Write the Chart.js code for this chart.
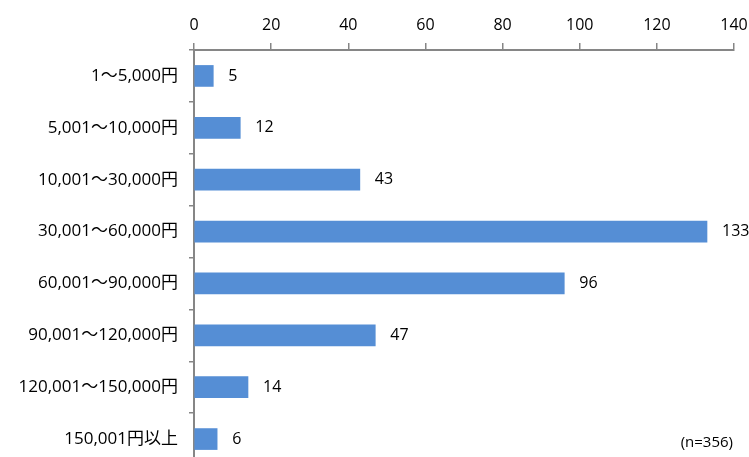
<!DOCTYPE html>
<html>
<head>
<meta charset="utf-8">
<script src="https://cdn.jsdelivr.net/npm/chart.js@4.4.1/dist/chart.umd.min.js"></script>
<style>
  html, body { margin: 0; padding: 0; background: #fff; overflow: hidden; }
  canvas { display: block; }
</style>
</head>
<body>
<canvas id="c" width="749" height="466"></canvas>
<script>
// price ranges and respondent counts
const categories = ['1～5,000円', '5,001～10,000円', '10,001～30,000円', '30,001～60,000円',
  '60,001～90,000円', '90,001～120,000円', '120,001～150,000円', '150,001円以上'];
const counts = [5, 12, 43, 133, 96, 47, 14, 6];
const xTicks = [0, 20, 40, 60, 80, 100, 120, 140];
const note = '(n=356)';

const FONT = '"Open Sans", "Noto Sans CJK JP", sans-serif';

// value labels at the end of each bar + the n= note
const labelPlugin = {
  id: 'labels',
  afterDatasetsDraw(chart) {
    const ctx = chart.ctx;
    ctx.save();
    ctx.font = '16px ' + FONT;
    ctx.fillStyle = '#000';
    ctx.textBaseline = 'middle';
    ctx.textAlign = 'left';
    chart.getDatasetMeta(0).data.forEach((bar, i) => {
      ctx.fillText(counts[i], bar.x + 15, bar.y);
    });
    ctx.font = '15px ' + FONT;
    ctx.textAlign = 'right';
    ctx.fillText(note, 733, 443);
    ctx.restore();
  }
};

new Chart(document.getElementById('c'), {
  type: 'bar',
  data: {
    labels: categories,
    datasets: [{
      data: counts,
      backgroundColor: '#558ed5',
      borderWidth: 0,
      barThickness: 21
    }]
  },
  options: {
    indexAxis: 'y',
    responsive: false,
    animation: false,
    layout: { padding: { left: 0, right: 15, top: 0, bottom: 1 } },
    plugins: { legend: { display: false }, tooltip: { enabled: false } },
    scales: {
      x: {
        position: 'top',
        min: 0, max: 140,
        afterBuildTicks: s => { s.ticks = xTicks.map(v => ({ value: v })); },
        afterFit: s => { s.height = 50; s.paddingLeft = 0; s.paddingRight = 0; },
        grid: { drawOnChartArea: false, tickLength: 7, color: '#868686', lineWidth: 1.5 },
        border: { color: '#868686', width: 2 },
        ticks: { color: '#000', font: { family: FONT, size: 16 }, padding: 8, maxRotation: 0 }
      },
      y: {
        afterFit: s => { s.width = 194; s.paddingTop = 0; s.paddingBottom = 0; },
        grid: { drawOnChartArea: false, tickLength: 5, color: '#868686', lineWidth: 1.5, offset: true },
        border: { color: '#868686', width: 2 },
        ticks: { color: '#000', font: { family: FONT, size: 17 }, padding: 11 }
      }
    }
  },
  plugins: [labelPlugin]
});
</script>
</body>
</html>
